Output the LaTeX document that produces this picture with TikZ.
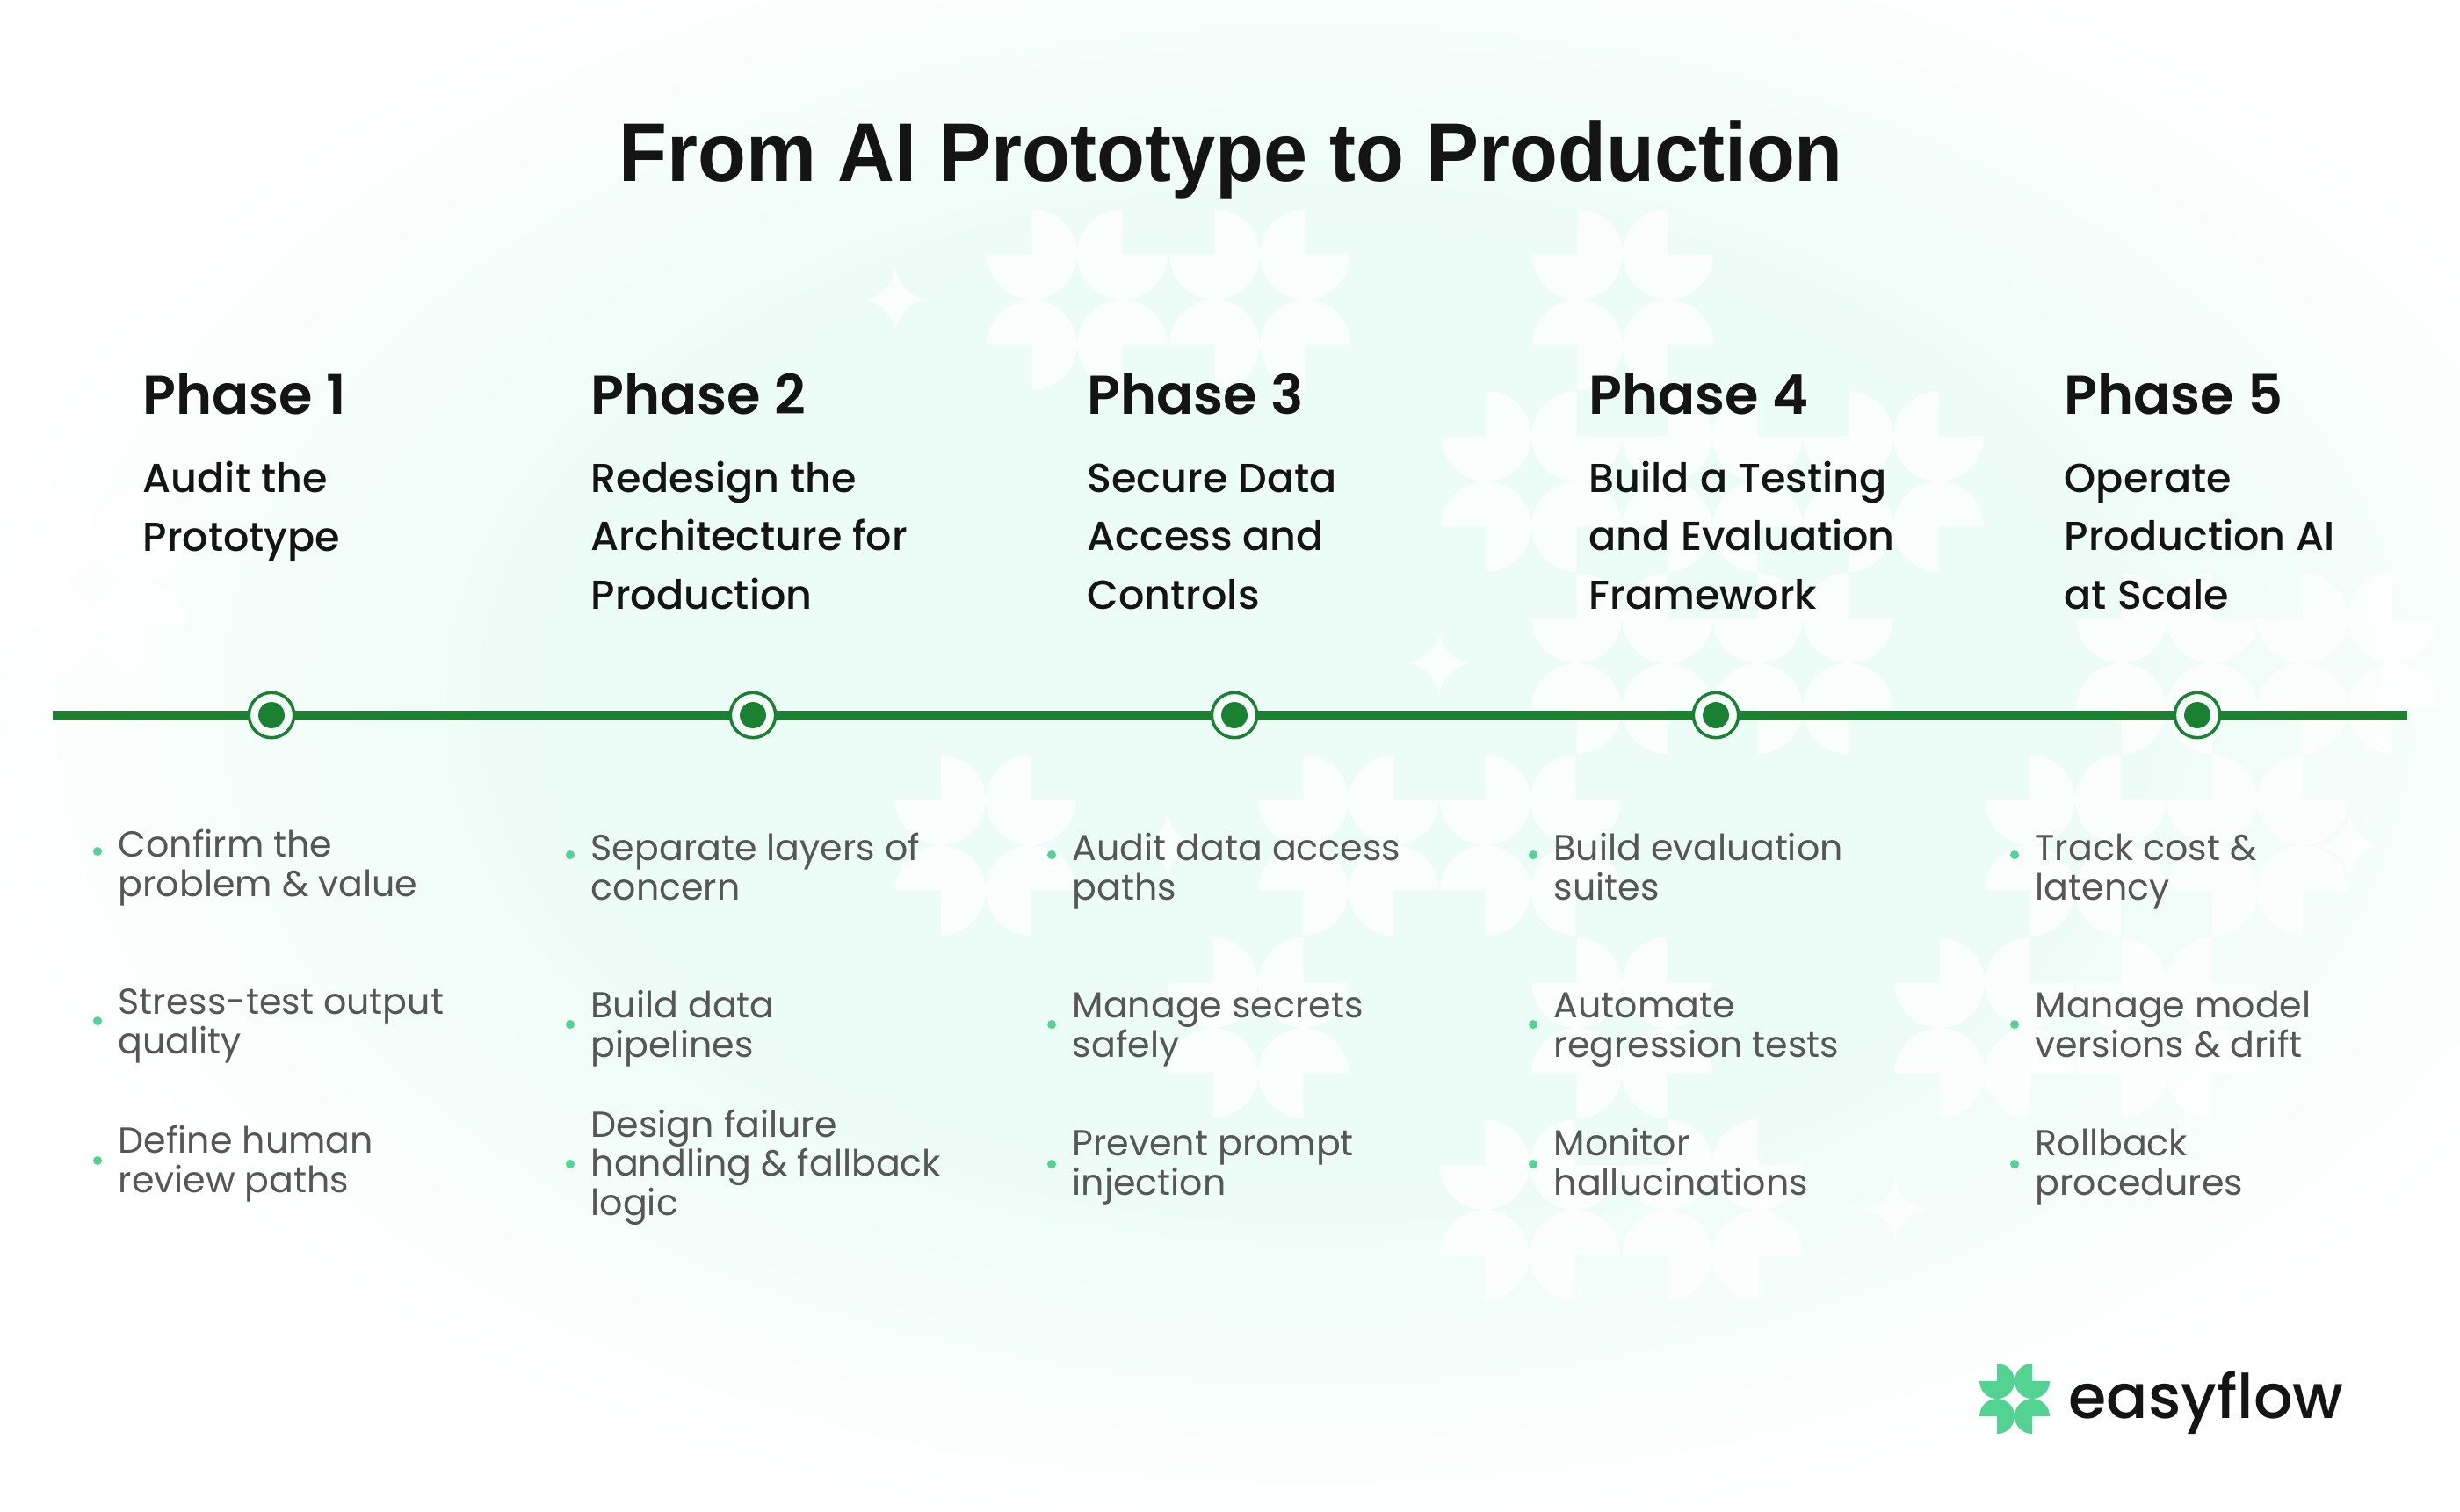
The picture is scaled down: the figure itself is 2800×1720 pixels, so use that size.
\documentclass[tikz,border=0pt]{standalone}
\usepackage{fontspec}
\setmainfont{Poppins}
\newfontfamily\titlefont{Liberation Sans}
\newfontfamily\goalfont{Poppins Medium}
\newfontfamily\phasefont{Poppins SemiBold}
\definecolor{inkc}{HTML}{141414}
\definecolor{greyc}{HTML}{565656}
\definecolor{linec}{HTML}{1A8032}
\definecolor{dotc}{HTML}{52D391}
\definecolor{mintc}{HTML}{ECFCF6}
\pgfdeclareradialshading{mintglow}{\pgfpointorigin}{color(0bp)=(mintc);color(14bp)=(mintc);color(25bp)=(white);color(50bp)=(white)}
\tikzset{
	titletext/.style={anchor=base,font=\titlefont\bfseries\fontsize{27pt}{32pt}\selectfont,text=inkc,inner sep=0pt},
	phasetext/.style={anchor=base west,font=\phasefont\fontsize{17.7pt}{20pt}\selectfont,text=inkc,inner sep=0pt},
	goaltext/.style={anchor=base west,align=left,font=\goalfont\fontsize{13.1pt}{18.78pt}\selectfont,text=inkc,inner sep=0pt},
	itemtext/.style={anchor=base west,align=left,font=\fontsize{11.7pt}{12.6pt}\selectfont,text=greyc,inner sep=0pt},
	itemdot/.style={circle,fill=dotc,inner sep=0pt,minimum size=2.85pt},
	stopring/.style={circle,draw=linec,fill=mintc!55!white,line width=1pt,inner sep=0pt,minimum size=14.6pt},
	stopdot/.style={circle,fill=linec,inner sep=0pt,minimum size=8.5pt},
	petal/.style={fill=white,fill opacity=0.78},
	logopetal/.style={fill=dotc}
}
% four three-quarter discs around (#1,#2), radius #3
\newcommand{\clover}[4]{
	\fill [#4] (#1+#3,#2-#3) -- ++(0,-#3) arc (-90:-360:#3) -- cycle;
	\fill [#4] (#1-#3,#2-#3) -- ++(0,-#3) arc (-90:180:#3) -- cycle;
	\fill [#4] (#1+#3,#2+#3) -- ++(0,#3) arc (90:360:#3) -- cycle;
	\fill [#4] (#1-#3,#2+#3) -- ++(0,#3) arc (90:-180:#3) -- cycle;
}
\newcommand{\sparkle}[2]{
	\fill [petal] (#1,#2+41) .. controls (#1,#2+18) and (#1+18,#2) .. (#1+41,#2)
		.. controls (#1+18,#2) and (#1,#2-18) .. (#1,#2-41)
		.. controls (#1,#2-18) and (#1-18,#2) .. (#1-41,#2)
		.. controls (#1-18,#2) and (#1,#2+18) .. (#1,#2+41) -- cycle;
}
\begin{document}
\begin{tikzpicture}[x=0.01cm,y=-0.01cm]
	\useasboundingbox (0,0) rectangle (2800,1720);
	\fill [white] (0,0) rectangle (2800,1720);
	\begin{scope}
		\clip (0,0) rectangle (2800,1720);
		\path [shading=mintglow] (1500,800) ellipse (1550 and 960);
	\end{scope}

	% background pattern
	\foreach \px/\py in {1226/341,1434/341,1847/341,
		1743/548,1949/548,2155/548,109/662,
		1846/755,2052/755,2466/755,2672/755,
		1122/962,1535/962,1742/962,2362/962,2569/962,
		1432/1170,1846/1170,2259/1170,2466/1170,
		1741/1377,1949/1377}
		{\clover{\px}{\py}{51.5}{petal}}
	\foreach \px/\py in {1019/341,1638/755,1329/962,2157/1377,2674/963}
		{\sparkle{\px}{\py}}

	\node [titletext] (title) at (1401,206) {\scalebox{0.947}[1]{From AI Prototype to Production}};

	% timeline
	\coordinate (linestart) at (60,814);
	\coordinate (lineend) at (2740,814);
	\draw [linec,line width=2.85pt] (linestart) -- (lineend);
	\foreach \n/\cx in {1/309,2/857,3/1405,4/1953,5/2501} {
		\node [stopring] (ring\n) at (\cx,814) {};
		\node [stopdot] (stop\n) at (ring\n) {};
	}

	% headings
	\node [phasetext] (phase1) at (162,471) {Phase 1};
	\node [phasetext] (phase2) at (672,471) {Phase 2};
	\node [phasetext] (phase3) at (1237,471) {Phase 3};
	\node [phasetext] (phase4) at (1808,471) {Phase 4};
	\node [phasetext] (phase5) at (2349,471) {Phase 5};

	\node [goaltext] (goal1) at (162,627) {Audit the\\Prototype};
	\node [goaltext] (goal2) at (672,693) {Redesign the\\Architecture for\\Production};
	\node [goaltext] (goal3) at (1237,693) {Secure Data\\Access and\\Controls};
	\node [goaltext] (goal4) at (1808,693) {Build a Testing\\and Evaluation\\Framework};
	\node [goaltext] (goal5) at (2349,693) {Operate\\Production AI\\at Scale};

	% first column sits a little apart
	\foreach \n/\dy/\by/\txt in {
		a/969/1020/{Confirm the\\problem \& value},
		b/1162/1199/{Stress-test output\\quality},
		c/1321/1357/{Define human\\review paths}} {
		\node [itemdot] (dot1\n) at (111,\dy) {};
		\node [itemtext] (item1\n) at (134,\by) {\txt};
	}

	% second column
	\foreach \n/\dy/\by/\txt in {
		a/973/1024/{Separate layers of\\concern},
		b/1166/1203/{Build data\\pipelines},
		c/1325/1383/{Design failure\\handling \& fallback\\logic}} {
		\node [itemdot] (dot2\n) at (649,\dy) {};
		\node [itemtext] (item2\n) at (672,\by) {\txt};
	}

	\foreach \n/\dy/\by/\txt in {
		a/973/1024/{Audit data access\\paths},
		b/1166/1203/{Manage secrets\\safely},
		c/1325/1360/{Prevent prompt\\injection}} {
		\node [itemdot] (dot3\n) at (1197,\dy) {};
		\node [itemtext] (item3\n) at (1220,\by) {\txt};
	}

	\foreach \n/\dy/\by/\txt in {
		a/973/1024/{Build evaluation\\suites},
		b/1166/1203/{Automate\\regression tests},
		c/1325/1360/{Monitor\\hallucinations}} {
		\node [itemdot] (dot4\n) at (1745,\dy) {};
		\node [itemtext] (item4\n) at (1768,\by) {\txt};
	}

	\foreach \n/\dy/\by/\txt in {
		a/973/1024/{Track cost \&\\latency},
		b/1166/1203/{Manage model\\versions \& drift},
		c/1325/1360/{Rollback\\procedures}} {
		\node [itemdot] (dot5\n) at (2293,\dy) {};
		\node [itemtext] (item5\n) at (2316,\by) {\txt};
	}

	% logo
	\clover{2293}{1592}{20}{logopetal}
	\node [anchor=base west,font=\goalfont\fontsize{19.9pt}{22pt}\selectfont,text=inkc,inner sep=0pt] (logotext) at (2354,1614) {easyflow};
\end{tikzpicture}
\end{document}
